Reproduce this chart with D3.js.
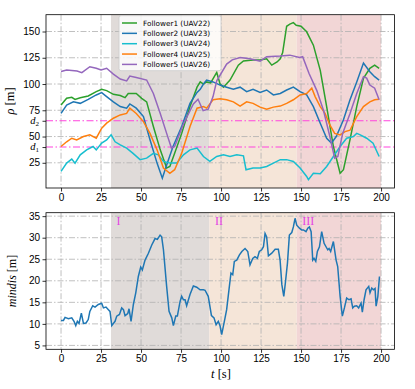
<!DOCTYPE html>
<html>
<head>
<meta charset="utf-8" />
<script src="https://cdn.jsdelivr.net/npm/d3@7/dist/d3.min.js"></script>
<style>
  body { margin: 0; background: #fff; }
  svg { display: block; font-family: "DejaVu Sans", sans-serif; }
  .tick text { font-size: 10px; fill: #000; }
  .tick line { stroke: #000; stroke-width: 0.8; }
  .grid line { stroke: #b0b0b0; stroke-width: 0.8; stroke-dasharray: 6,2,1.5,2; }
  .serif { font-family: "Liberation Serif", "DejaVu Serif", serif; }
</style>
</head>
<body>
<svg id="chart" width="415" height="389"></svg>
<script>
// ---- data ----
var tF1 = [0,3.5,6.7,8.75,12,17,22,25.4,28.5,32.7,37,40,42,47,50.4,53.5,57.7,62,66,68,71,75.4,80.6,85,87,89,91,93.5,97.3,99.4,101.5,105.6,110.8,114,120,124.4,128.5,131.7,135,137,138.5,141,143,145.2,147,150,153.5,157.7,162,166,170.2,174.4,176.5,180.6,184.8,189,193,196,198.8];
var vF1 = [80,86.4,87.3,85.4,87,88.6,92.7,95,93.7,90.2,89,87,91,91,86.4,83,59.5,37.3,20,21.5,34,53,78.5,97,102,100,102,101,111,100,97,103.8,118,122,122.8,122.8,124,118,121,124,130,155,157,158.5,156,155,149.7,137,113,78.5,40.5,15,18.4,47,78.5,105.4,115,118,115];

var tF2 = [0,3.5,7.7,12,17,22,25.4,28.5,32.7,37,41,43,47,51.5,55.6,60,63.3,66,70,75.4,80.6,85,87,89,91,95,99.4,103.5,107.7,111.9,116,120,124.4,128.5,132.7,137,141,145.2,149.4,153.5,157.7,162,166,169,172,176.5,180.6,184.8,189,193,196,198.8];
var vF2 = [72,80,83,81.6,85.4,89.6,91.8,88,83,78.5,77,81,77,69,47,24.7,10.4,23,40.5,59.5,81.6,92,95,100,103.8,102,99,97,95,97,92.7,95,92,94.3,89.6,91,94.3,97,92.7,89.6,78.5,62.7,48.4,43.7,50,66,85,102,120,111.7,107,103.8];

var tF3 = [0,3.5,6.7,8.75,12,16,20,22,25.4,28.5,31.3,33.8,37,41,45,49.4,53.5,57.7,60.8,64,68,72.3,76.5,80.6,85,89,93,97.3,101.5,105.6,109.8,114,115.6,120,124.4,128.5,132.7,137,141,145.2,149.4,153.5,154.6,157.7,162,166,170.2,174.4,178.5,182.7,184.8,187,191,195,198.8];
var vF3 = [16.8,24.7,28.5,24.7,32.6,37.3,40.5,37.3,43.7,46.8,51.6,45,42,39,34,28,29.4,34,32.6,26.3,24.7,24.7,32.6,37.3,39,31,26.3,31,32.6,31,32.6,31.6,18.4,20,20,21.5,24.7,28,28,26.3,20,12,9,15,14.6,21.5,31,40.5,48.4,50,53,51.6,48.4,43.7,31];

var tF4 = [0,3.5,6.7,9.8,14,18,22,25.4,28.5,32.7,37,41,43,47,51.5,55.6,60,64,68,71,75.4,80.6,85,89,91,95,99.4,103.5,107.7,111.9,116,120,124.4,128.5,132.7,137,141,145.2,149.4,153.5,156.7,158.8,162,165,168,171,174.4,177.5,180.6,184.8,189,193,196,198.8];
var vF4 = [40.5,45,48.4,46.8,50,51.6,48.4,58,62.7,67.4,70.6,72,77,72,64.2,53,37.3,20,15,18.4,34,59.5,77,78.5,77,85,86,85,83,79,83,81.6,78,76,78,79,81.6,85,89.6,91,96,88,78.5,72,61,53,51.6,54.7,56,69,78.5,83,85,85.4];

var tF5 = [0,3.5,10,13,18,22,25,28.5,32.7,37,41,43,47,53.5,57.7,62,66,69,71,76.5,82.7,85.6,88.8,92,95,97.3,103.5,107,111.9,118,124.4,128.5,137,143,149,151,155,159.8,164,168,171,173,176,180.6,184.8,189,191,193,196,198.8];
var vF5 = [112,113.3,112.3,110.8,116.5,115,113.3,115,109.5,104.7,103,107.6,106.3,103.8,91,72,53,39,40.5,62,81,85.5,74.6,76,88,103,119,123,125.3,124,121.8,126,126.6,127.5,125.3,126,110,94,75,50,29.4,31,53,72,91,107,105.6,99,96,85];

var tMin = [0,1.5,2.5,4.6,6.7,8.1,9.2,10.2,11.25,12.7,14,15.6,17,18,19.8,21.25,23.3,25.4,26.5,28.1,29.6,30.6,31.7,33.75,34.8,36.5,37.9,39,40,41.7,42.5,43.75,45.2,46.7,48.3,49.8,50.8,52.5,54.6,56.7,58.75,60.2,61.9,62.9,64,66,67.5,69.2,70.2,71.7,72.7,74.4,75.4,76.5,77.5,78.5,80.6,82.7,84.8,86.9,89,90,92,94,95.6,96.9,98.3,99.4,100.4,102.5,103.5,105.2,106.2,107.3,108.3,109.8,111.5,113,115,116.7,118.1,119.8,121.2,122.7,123.9,125.4,126.5,127.5,128.5,129.6,131.7,133.8,135.8,136.9,138,139.2,140.2,141.5,142.7,144.2,145.2,146.25,147.3,149,150.4,151.5,153.1,154.2,155.2,156.3,157.3,158.1,159.2,160.2,161.5,162.9,164.4,165.6,166.7,167.5,168.5,170.2,171.9,172.9,174.4,175.8,177.1,178.5,180,181.25,182.3,183.3,184.8,186,187.5,188.3,189.4,190.6,192.3,193.1,194.2,195.2,196.25,196.9,198,199];
var vMin = [10.8,10.8,11.5,11.2,11.4,10.6,9.6,10.6,10.1,12.5,10.1,10.2,11,12.9,14.2,13.9,14.5,14.8,13.7,13.9,13.3,12.9,9.6,10.6,11.8,12.2,13.7,13.3,11.9,12.4,13.5,10.6,14.5,17.2,21,23.2,22.5,24.8,26.4,28.3,29.8,29.6,30.6,30.2,27.2,18.7,12.9,11.4,9.6,11.8,11.8,15.2,16.4,15.6,15.6,14.2,16.8,18.8,18.5,17.9,17.9,17.8,16.4,11.9,11.4,9.8,10.6,9.5,7.5,11.4,13.3,18.7,21.8,21.4,24.5,24.8,26,26.8,27.5,26.8,23.7,25.2,25.6,25.2,26.8,27.2,27.9,31,30.2,25.8,26.4,27.3,27.3,24.8,19.1,16.4,19.5,24.1,30.6,31.2,32.5,34.5,32.9,32.2,31.8,31.8,31.4,32.2,32.5,31.4,24.8,25.2,24.5,26.8,27.9,31.4,28.7,27.9,27.2,27.5,26.8,29.1,24.8,23.3,16.4,11.8,13.7,16,15.6,15.8,13.7,14.1,14.2,13.7,14.8,12.7,15.6,17.9,18.7,17.2,18.3,17.9,18.2,14.1,16.4,21];

var seriesNames = ['Follower1 (UAV22)','Follower2 (UAV23)','Follower3 (UAV24)','Follower4 (UAV25)','Follower5 (UAV26)'];
var seriesColors = ['#2ca02c','#1f77b4','#17becf','#ff7f0e','#9467bd'];
var xTicks = [0,25,50,75,100,125,150,175,200];
var rhoTicks = [25,50,75,100,125,150];
var minTicks = [5,10,15,20,25,30,35];
var dLevels = [40,65];          // d1, d2
var phaseStart = [31.2,92.7,147.3];
var phaseEnd = [92.7,147.3,200];
var phaseNames = ['I','II','III'];
var phaseColors = ['#e0dbd9','#f5e5d8','#f2d6d6'];

// ---- layout ----
var svg = d3.select('#chart');
var L = 46, R = 394.5;
var x = d3.scaleLinear().domain([-9.4,208.4]).range([L,R]);
var yTop = d3.scaleLinear().domain([1,166]).range([188,14.7]);
var yBot = d3.scaleLinear().domain([4.1,35.8]).range([349.3,212.7]);

function panel(y, yTicks, clipId) {
  var top = y.range()[1], bot = y.range()[0];
  svg.append('clipPath').attr('id', clipId)
    .append('rect').attr('x', L).attr('y', top).attr('width', R - L).attr('height', bot - top);
  var g = svg.append('g').attr('clip-path', 'url(#' + clipId + ')');
  // phases
  g.selectAll('rect.phase').data(phaseStart).enter().append('rect')
    .attr('class', 'phase')
    .attr('x', function(d) { return x(d); })
    .attr('width', function(d, i) { return x(phaseEnd[i]) - x(d); })
    .attr('y', top).attr('height', bot - top)
    .attr('fill', function(d, i) { return phaseColors[i]; });
  // grid
  var grid = g.append('g').attr('class', 'grid');
  grid.selectAll('line.v').data(xTicks).enter().append('line')
    .attr('x1', x).attr('x2', x).attr('y1', top).attr('y2', bot);
  grid.selectAll('line.h').data(yTicks).enter().append('line')
    .attr('x1', L).attr('x2', R).attr('y1', y).attr('y2', y);
  // axes
  svg.append('g').attr('transform', 'translate(0,' + bot + ')')
    .call(d3.axisBottom(x).tickValues(xTicks).tickSize(3.5).tickPadding(2.5))
    .call(function(a) { a.select('.domain').remove(); });
  return g;
}

function frame(y) {
  var top = y.range()[1], bot = y.range()[0];
  svg.append('rect').attr('x', L).attr('y', top).attr('width', R - L).attr('height', bot - top)
    .attr('fill', 'none').attr('stroke', '#000').attr('stroke-width', 0.8);
}

// ---- top panel ----
var gTop = panel(yTop, rhoTicks, 'clipTop');
gTop.selectAll('line.dl').data(dLevels).enter().append('line')
  .attr('x1', L).attr('x2', R).attr('y1', yTop).attr('y2', yTop)
  .attr('stroke', '#ff44dd').attr('stroke-width', 1.1).attr('stroke-dasharray', '7,2.5,1.5,2.5');

var line = d3.line();
var ts = [tF1, tF2, tF3, tF4, tF5], vs = [vF1, vF2, vF3, vF4, vF5];
[0, 1, 2, 3, 4].forEach(function(k) {
  var pts = ts[k].map(function(t, i) { return [x(t), yTop(vs[k][i])]; });
  gTop.append('path').attr('d', line(pts)).attr('fill', 'none')
    .attr('stroke', seriesColors[k]).attr('stroke-width', 1.5);
});

svg.append('g').attr('transform', 'translate(' + L + ',0)')
  .call(d3.axisLeft(yTop).tickValues(rhoTicks.concat(dLevels)).tickSize(3.5).tickPadding(2.5)
    .tickFormat(function(d) { return dLevels.indexOf(d) >= 0 ? '' : d; }))
  .call(function(a) { a.select('.domain').remove(); });

dLevels.forEach(function(d, i) {
  var t = svg.append('text').attr('class', 'serif').attr('x', 39).attr('y', yTop(d) + 3)
    .attr('text-anchor', 'end').attr('font-size', 10.5).attr('font-style', 'italic');
  t.append('tspan').text('d');
  t.append('tspan').attr('font-size', 7).attr('font-style', 'normal').attr('dy', 2).text(i + 1);
});
frame(yTop);

// legend
var lg = svg.append('g').attr('transform', 'translate(119,15.7)');
lg.append('rect').attr('width', 102).attr('height', 55).attr('rx', 2)
  .attr('fill', '#fff').attr('fill-opacity', 0.8).attr('stroke', '#ccc').attr('stroke-width', 0.8);
seriesNames.forEach(function(n, i) {
  var yy = 7.3 + i * 10.35;
  lg.append('line').attr('x1', 3).attr('x2', 18).attr('y1', yy).attr('y2', yy)
    .attr('stroke', seriesColors[i]).attr('stroke-width', 1.5);
  lg.append('text').attr('x', 24).attr('y', yy + 2.6).attr('font-size', 7.3).text(n);
});

svg.append('text').attr('class', 'serif').attr('transform', 'translate(14,101) rotate(-90)')
  .attr('text-anchor', 'middle').attr('font-size', 12.5)
  .html('<tspan font-style="italic">ρ</tspan> [m]');

// ---- bottom panel ----
var gBot = panel(yBot, minTicks, 'clipBot');
var pb = tMin.map(function(t, i) { return [x(t), yBot(vMin[i])]; });
gBot.append('path').attr('d', line(pb)).attr('fill', 'none')
  .attr('stroke', '#1f77b4').attr('stroke-width', 1.5);
gBot.selectAll('text.ph').data(phaseStart).enter().append('text')
  .attr('class', 'serif').attr('x', function(d) { return x(d + 3.5); }).attr('y', 225)
  .attr('font-size', 12).attr('fill', '#e444e4').text(function(d, i) { return phaseNames[i]; });

svg.append('g').attr('transform', 'translate(' + L + ',0)')
  .call(d3.axisLeft(yBot).tickValues(minTicks).tickSize(3.5).tickPadding(2.5))
  .call(function(a) { a.select('.domain').remove(); });
frame(yBot);

svg.append('text').attr('class', 'serif').attr('transform', 'translate(16,281) rotate(-90)')
  .attr('text-anchor', 'middle').attr('font-size', 12)
  .html('<tspan font-style="italic">mindis</tspan> [m]');
svg.append('text').attr('class', 'serif').attr('x', 221).attr('y', 378)
  .attr('text-anchor', 'middle').attr('font-size', 12.5)
  .html('<tspan font-style="italic">t</tspan> [s]');
</script>
</body>
</html>
